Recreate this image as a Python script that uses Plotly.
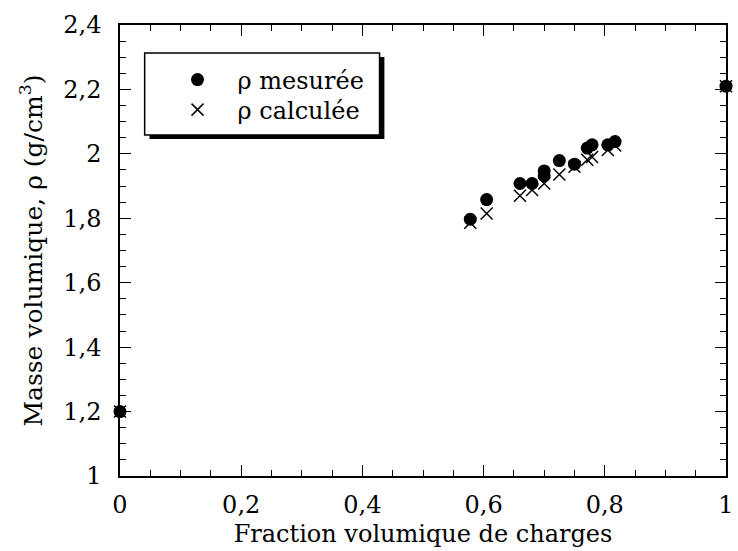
import plotly.graph_objects as go

# Data
phi_mes = [0.0, 0.578, 0.605, 0.66, 0.68, 0.70, 0.70, 0.725, 0.75, 0.771, 0.779, 0.805, 0.817, 1.0]
rho_mes = [1.20, 1.797, 1.858, 1.908, 1.908, 1.947, 1.932, 1.979, 1.968, 2.018, 2.028, 2.028, 2.038, 2.21]
phi_cal = [0.0, 0.578, 0.605, 0.66, 0.68, 0.70, 0.725, 0.75, 0.771, 0.779, 0.805, 0.817, 1.0]
rho_cal = [1.20, 1.786, 1.815, 1.870, 1.888, 1.908, 1.936, 1.960, 1.982, 1.990, 2.012, 2.026, 2.21]

x_ticks = [0, 0.2, 0.4, 0.6, 0.8, 1]
x_labels = ["0", "0,2", "0,4", "0,6", "0,8", "1"]
y_ticks = [1, 1.2, 1.4, 1.6, 1.8, 2, 2.2, 2.4]
y_labels = ["1", "1,2", "1,4", "1,6", "1,8", "2", "2,2", "2,4"]

FONT = "DejaVu Serif"
FS = 24

fig = go.Figure()
fig.add_trace(go.Scatter(x=phi_mes, y=rho_mes, mode="markers", name="ρ\u00a0mesurée",
                         marker=dict(symbol="circle", size=13, color="black"), cliponaxis=False,
                         legend="legend"))
fig.add_trace(go.Scatter(x=phi_cal, y=rho_cal, mode="markers", name="ρ\u00a0calculée",
                         marker=dict(symbol="x-thin", size=12, color="black",
                                     line=dict(width=1.5, color="black")), cliponaxis=False,
                         legend="legend2"))

axis_common = dict(showgrid=False, zeroline=False, showline=True, linecolor="black", linewidth=1.5,
                   mirror="ticks", ticks="inside", ticklen=11, tickwidth=1.2, tickcolor="black",
                   ticklabeloverflow="allow",
                   tickfont=dict(family=FONT, size=FS, color="black"),
                   minor=dict(ticks="inside", ticklen=6, tickcolor="black", tickwidth=1))

fig.update_xaxes(range=[0, 1], tickvals=x_ticks, ticktext=x_labels,
                 minor_dtick=0.05, ticklabelstandoff=6,
                 title=dict(text="Fraction volumique de charges", font=dict(family=FONT, size=FS, color="black"), standoff=8),
                 **axis_common)
fig.update_yaxes(range=[1, 2.4], tickvals=y_ticks, ticktext=y_labels,
                 minor_dtick=0.05, ticklabelstandoff=12,
                 title=dict(text="Masse volumique,\u00a0ρ\u00a0(g/cm<sup>3</sup>)", font=dict(family=FONT, size=FS + 1, color="black"), standoff=14),
                 **axis_common)

# legend box with shadow
bx0, bx1, by0, by1 = 0.0407, 0.4283, 0.756, 0.938
fig.add_shape(type="rect", xref="paper", yref="paper", x0=bx0 + 0.008, x1=bx1 + 0.008,
              y0=by0 - 0.009, y1=by1 - 0.009, fillcolor="black", line=dict(width=0), layer="above")
fig.add_shape(type="rect", xref="paper", yref="paper", x0=bx0, x1=bx1, y0=by0, y1=by1,
              fillcolor="white", line=dict(color="black", width=1.5), layer="above")

leg_common = dict(xanchor="left", yanchor="middle", bgcolor="rgba(0,0,0,0)", borderwidth=0,
                  itemwidth=70, font=dict(family=FONT, size=FS, color="black"))
fig.update_layout(
    width=738, height=551,
    margin=dict(l=120, r=4, t=25, b=75),
    paper_bgcolor="white", plot_bgcolor="white",
    font=dict(family=FONT, size=FS, color="black"),
    showlegend=True,
    legend=dict(x=0.0619, y=0.878, **leg_common),
    legend2=dict(x=0.0619, y=0.8115, **leg_common),
)

fig.write_html("out.html")
